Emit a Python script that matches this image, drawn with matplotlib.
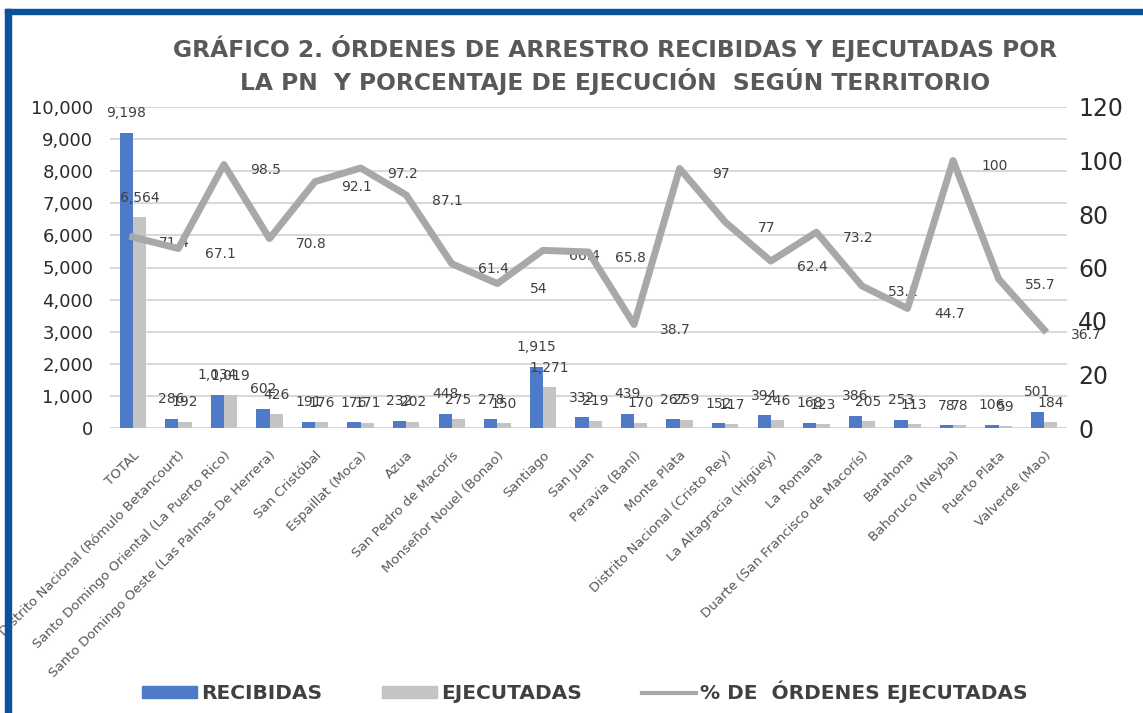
import matplotlib
matplotlib.use('Agg')
import matplotlib.pyplot as plt
import numpy as np
from matplotlib.patches import Rectangle, Patch
from matplotlib.lines import Line2D

territorios = ['TOTAL', 'Distrito Nacional (Rómulo Betancourt)',
               'Santo Domingo Oriental (La Puerto Rico)',
               'Santo Domingo Oeste (Las Palmas De Herrera)',
               'San Cristóbal', 'Espaillat (Moca)', 'Azua',
               'San Pedro de Macorís', 'Monseñor Nouel (Bonao)', 'Santiago',
               'San Juan', 'Peravia (Baní)', 'Monte Plata',
               'Distrito Nacional (Cristo Rey)', 'La Altagracia (Higüey)',
               'La Romana', 'Duarte (San Francisco de Macorís)', 'Barahona',
               'Bahoruco (Neyba)', 'Puerto Plata', 'Valverde (Mao)']
recibidas = [9198, 286, 1034, 602, 191, 176, 232, 448, 278, 1915, 332, 439,
             267, 152, 394, 168, 386, 253, 78, 106, 501]
ejecutadas = [6564, 192, 1019, 426, 176, 171, 202, 275, 150, 1271, 219, 170,
              259, 117, 246, 123, 205, 113, 78, 59, 184]
porcentaje = [71.4, 67.1, 98.5, 70.8, 92.1, 97.2, 87.1, 61.4, 54, 66.4, 65.8,
              38.7, 97, 77, 62.4, 73.2, 53.1, 44.7, 100, 55.7, 36.7]

azul = '#4f7ac7'
gris = '#c4c4c4'
linea = '#a8a8a8'
texto = '#404040'

W, H = 1143, 713
fig = plt.figure(figsize=(W / 100, H / 100), dpi=100)
ax = fig.add_axes([110 / W, 1 - 428 / H, 957 / W, 321 / H])
ax2 = ax.twinx()

x = np.arange(len(territorios))
bw = 0.29
b1 = ax.bar(x - bw / 2, recibidas, bw, color=azul, zorder=3)
b2 = ax.bar(x + bw / 2, ejecutadas, bw, color=gris, zorder=3)
ax.bar_label(b1, labels=[f'{v:,}' for v in recibidas], padding=9,
             fontsize=10, color=texto)
ax.bar_label(b2, labels=[f'{v:,}' for v in ejecutadas], padding=9,
             fontsize=10, color=texto)

ax.set_xlim(-0.5, len(territorios) - 0.5)
ax.set_ylim(0, 10000)
ax.set_yticks(range(0, 10001, 1000))
ax.set_yticklabels([f'{v:,}' for v in range(0, 10001, 1000)],
                   fontsize=13, color='#2b2b2b')
ax.yaxis.grid(True, color='#d9d9d9', lw=1.5, zorder=0)
ax.set_axisbelow(True)
ax.set_xticks(x)
ax.set_xticklabels(territorios, rotation=45, ha='right',
                   rotation_mode='anchor', fontsize=9.6, color='#595959')
ax.tick_params(axis='both', length=0)
ax.tick_params(axis='x', pad=15)
ax.tick_params(axis='y', pad=12)

ax2.plot(x, porcentaje, color=linea, lw=5, zorder=4)
for xi, p in zip(x, porcentaje):
    ax2.annotate(f'{p:g}', (xi, p), xytext=(30, -4), textcoords='offset points',
                 ha='center', va='center', fontsize=10, color=texto)
ax2.set_ylim(0, 120)
ax2.set_yticks(range(0, 121, 20))
ax2.tick_params(axis='y', length=0, labelsize=17, labelcolor='#2b2b2b', pad=8)

for a in (ax, ax2):
    for s in a.spines.values():
        s.set_visible(False)

fig.text(0.538, 1 - 65 / H,
         'GRÁFICO 2. ÓRDENES DE ARRESTRO RECIBIDAS Y EJECUTADAS POR\n'
         'LA PN  Y PORCENTAJE DE EJECUCIÓN  SEGÚN TERRITORIO',
         ha='center', va='center', fontsize=16.8, fontweight='bold',
         color='#595959', linespacing=1.3)

handles = [Patch(color=azul), Patch(color=gris), Line2D([], [], color=linea, lw=3)]
fig.legend(handles, ['RECIBIDAS', 'EJECUTADAS', '% DE  ÓRDENES EJECUTADAS'],
           loc='center', bbox_to_anchor=(0.512, 1 - 692 / H), ncol=3,
           frameon=False, handlelength=2.7, handleheight=0.5,
           columnspacing=3.0, handletextpad=0.2,
           prop={'size': 14.5, 'weight': 'bold'}, labelcolor=texto)

# marco azul
fig.add_artist(Rectangle((5 / W, 1 - 14 / H), 1, 5 / H, transform=fig.transFigure,
                         color='#0a519e', zorder=10))
fig.add_artist(Rectangle((5 / W, 0), 6 / W, 1 - 9 / H, transform=fig.transFigure,
                         color='#0a519e', zorder=10))

fig.savefig('out.png', dpi=100, facecolor='white')
